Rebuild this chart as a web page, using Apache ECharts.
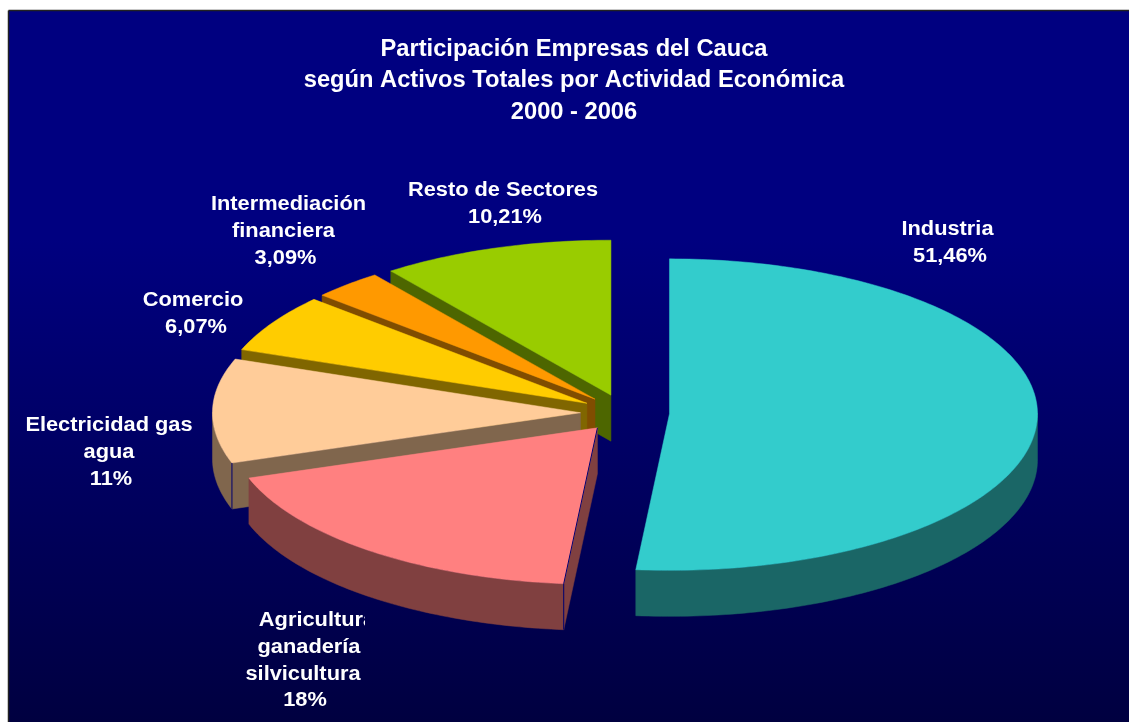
<!DOCTYPE html>
<html>
<head>
<meta charset="utf-8">
<style>html,body{margin:0;padding:0;background:#fff}#chart{width:1129px;height:722px}</style>
<script src="https://cdn.jsdelivr.net/npm/echarts@6/dist/echarts.min.js"></script>
</head>
<body>
<div id="chart"></div>
<script>
const titleLines = ['Participación Empresas del Cauca', 'según Activos Totales por Actividad Económica', '2000 - 2006'];
const categories = ['Industria', 'Agricultura\nganadería\nsilvicultura', 'Electricidad gas\nagua', 'Comercio', 'Intermediación\nfinanciera', 'Resto de Sectores'];
const values = [51.46, 18.34, 10.83, 6.07, 3.09, 10.21];
const percentLabels = ['51,46%', '18%', '11%', '6,07%', '3,09%', '10,21%'];
const topColors = ['#33CCCC', '#FF8080', '#FFCC99', '#FFCC00', '#FF9900', '#99CC00'];
const sideColors = ['#1A6666', '#804040', '#80664D', '#806600', '#804D00', '#4D6600'];

// Pie projection (a tilted, exploded 3D pie)
const PIE = {cx: 625, cy: 413, rx: 368, ryBack: 155, ryFront: 156.5, depth: 46, explode: 0.121};
// Label placement: centre x of each line, middle y of the first line
const LABEL_X = [[947.5, 950], [317, 309, 303, 305], [109, 109, 111], [193, 196], [288.5, 283.5, 285.5], [503, 505]];
const LABEL_Y = [229.5, 620.5, 425.5, 300.5, 204.5, 190.5];
const LABEL_CLIP_RIGHT = [null, 365, null, null, null, null];
const FONT = 'bold 20px "Liberation Sans", Arial, sans-serif';
const LABEL_STRETCH = 1.09;
const LINE_H = 26.8;

const total = values.reduce((a, b) => a + b, 0);
const starts = [];
values.reduce((acc, v, i) => { starts[i] = acc; return acc + v; }, 0);
const toAngle = v => v / total * 2 * Math.PI;

function project(theta, r, ox, oy) {
  const c = Math.cos(theta);
  const ry = c > 0 ? PIE.ryBack : PIE.ryFront;
  return [ox + PIE.rx * r * Math.sin(theta), oy - ry * r * c];
}

function renderSlice(params, api) {
  const i = params.dataIndex;
  const a0 = toAngle(starts[i]);
  const a1 = a0 + toAngle(api.value(0));
  const mid = (a0 + a1) / 2;
  const apex = project(mid, PIE.explode, PIE.cx, PIE.cy);
  const ox = apex[0], oy = apex[1];
  const down = p => [p[0], p[1] + PIE.depth];
  const baseZ = (categories.length - i) * 10;
  const steps = Math.max(4, Math.ceil((a1 - a0) / (Math.PI / 180)));
  const arc = [];
  for (let s = 0; s <= steps; s++) arc.push(project(a0 + (a1 - a0) * s / steps, 1, ox, oy));
  const children = [];
  const poly = (points, fill, z) => children.push({
    type: 'polygon', shape: {points}, z2: baseZ + z,
    style: {fill, stroke: fill, lineWidth: 0.5}, silent: true
  });
  const side = sideColors[i];
  // radial cut face on the start edge (visible when it turns toward the viewer)
  if (Math.sin(a0) < -0.01) {
    poly([apex, arc[0], down(arc[0]), down(apex)], side, 0);
  }
  // outer wall: only the part on the front half of the ellipse
  const front = arc.filter((p, k) => Math.cos(a0 + (a1 - a0) * k / steps) <= 0.02);
  if (front.length > 1) {
    poly(front.concat(front.slice().reverse().map(down)), side, 1);
  }
  // top surface
  poly([apex].concat(arc), topColors[i], 2);
  // thin navy seam at the corner of wall and cut face
  if (Math.sin(a0) < -0.01 && Math.cos(a0) < 0) {
    const seam = (p, q) => children.push({
      type: 'line', shape: {x1: p[0], y1: p[1], x2: q[0], y2: q[1]}, z2: baseZ + 3,
      style: {stroke: '#000070', lineWidth: 1}, silent: true
    });
    seam(arc[0], down(arc[0]));
    if (Math.abs(Math.sin(a0)) < 0.3) seam(apex, arc[0]);
  }
  // label
  const lines = categories[i].split('\n').concat(percentLabels[i]);
  const labelGroup = {type: 'group', children: lines.map((t, k) => ({
    type: 'text', z2: 200, x: LABEL_X[i][k], y: LABEL_Y[i] + k * LINE_H, scaleX: LABEL_STRETCH,
    style: {text: t, x: 0, y: 0, fill: '#FFFFFF', font: FONT, align: 'center', verticalAlign: 'middle'},
    silent: true
  }))};
  if (LABEL_CLIP_RIGHT[i]) {
    labelGroup.clipPath = {type: 'rect', shape: {x: 0, y: 0, width: LABEL_CLIP_RIGHT[i], height: 722}};
  }
  children.push(labelGroup);
  return {type: 'group', children};
}

const chart = echarts.init(document.getElementById('chart'), null, {renderer: 'canvas'});
chart.setOption({
  animation: false,
  backgroundColor: '#FFFFFF',
  title: {
    text: titleLines.join('\n'), left: 574, top: 33.5, padding: 0, textAlign: 'center',
    textStyle: {color: '#FFFFFF', fontFamily: '"Liberation Sans", Arial, sans-serif', fontWeight: 'bold', fontSize: 23.7, lineHeight: 31.5}
  },
  graphic: [
    {type: 'rect', z: 0, silent: true, shape: {x: 9, y: 11, width: 1120, height: 711},
      style: {fill: new echarts.graphic.LinearGradient(0, 0, 0, 1, [
        {offset: 0, color: '#000080'}, {offset: 0.32, color: '#000080'}, {offset: 1, color: '#000040'}
      ])}},
    {type: 'line', z: 0, silent: true, shape: {x1: 8.5, y1: 10.5, x2: 1129, y2: 10.5}, style: {stroke: '#222222', lineWidth: 1.5}},
    {type: 'line', z: 0, silent: true, shape: {x1: 8.5, y1: 10.5, x2: 8.5, y2: 722}, style: {stroke: '#222222', lineWidth: 1.5}}
  ],
  series: [{
    type: 'custom', coordinateSystem: 'none', silent: true, clip: false,
    data: values.map(v => [v]), encode: {value: 0}, renderItem: renderSlice
  }]
});
</script>
</body>
</html>
